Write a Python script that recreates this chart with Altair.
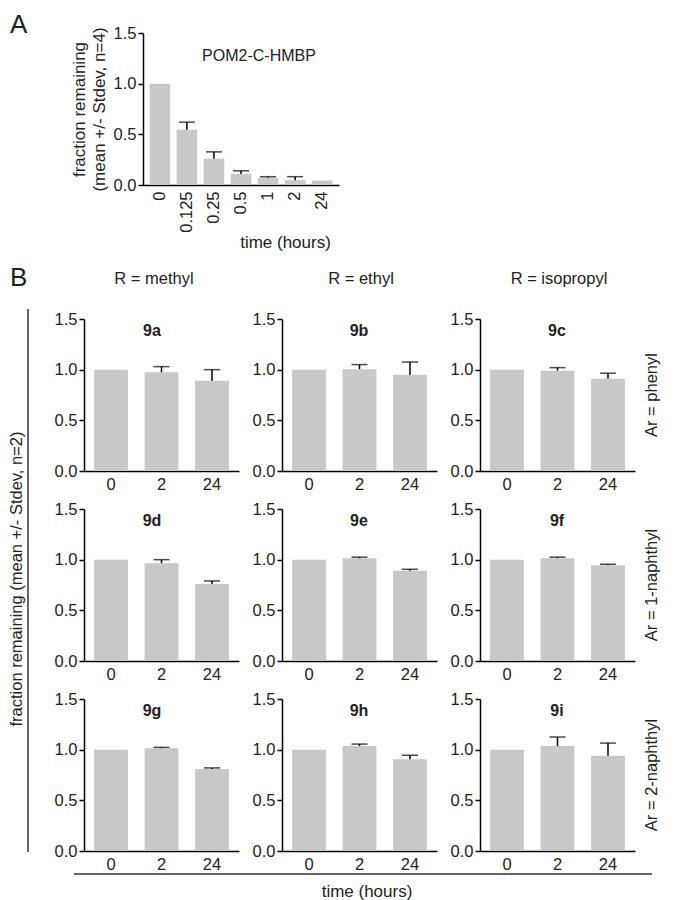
import altair as alt
import pandas as pd

FONT = "Liberation Sans"
GRAY = "#c8c8c8"
INK = "#222222"

# ---------------- Panel A data ----------------
times_a = ["0", "0.125", "0.25", "0.5", "1", "2", "24"]
mean_a = [1.0, 0.545, 0.26, 0.108, 0.072, 0.048, 0.045]
sd_a = [0.0, 0.075, 0.067, 0.032, 0.010, 0.034, 0.0]
title_a = "POM2-C-HMBP"
ytitle_a = ["fraction remaining", "(mean +/- Stdev, n=4)"]

# ---------------- Panel B data ----------------
times_b = ["0", "2", "24"]
compounds = ["9a", "9b", "9c", "9d", "9e", "9f", "9g", "9h", "9i"]
r_groups = ["R = methyl", "R = ethyl", "R = isopropyl"]
ar_groups = ["Ar = phenyl", "Ar = 1-naphthyl", "Ar = 2-naphthyl"]
mean_0h = [1.0, 1.0, 1.0, 1.0, 1.0, 1.0, 1.0, 1.0, 1.0]
sd_0h = [0.0, 0.0, 0.0, 0.0, 0.0, 0.0, 0.0, 0.0, 0.0]
mean_2h = [0.975, 1.005, 0.99, 0.965, 1.015, 1.015, 1.015, 1.035, 1.035]
sd_2h = [0.055, 0.045, 0.03, 0.035, 0.01, 0.01, 0.008, 0.02, 0.09]
mean_24h = [0.89, 0.95, 0.91, 0.76, 0.89, 0.945, 0.81, 0.905, 0.94]
sd_24h = [0.11, 0.125, 0.055, 0.03, 0.015, 0.01, 0.01, 0.04, 0.125]
ytitle_b = "fraction remaining (mean +/- Stdev, n=2)"
xtitle = "time (hours)"

y_ticks = [0.0, 0.5, 1.0, 1.5]


def one(text):
    return pd.DataFrame({"t": [text]})


def label(text, x, y, size=16.5, weight="normal", angle=0, align="center", baseline="middle"):
    return alt.Chart(one(text)).mark_text(
        fontSize=size, fontWeight=weight, angle=angle, align=align,
        baseline=baseline, color=INK, font=FONT
    ).encode(text="t:N", x=alt.value(x), y=alt.value(y))


def hline(x1, x2, y):
    return alt.Chart(one("")).mark_rule(color="#333333", strokeWidth=1.5).encode(
        x=alt.value(x1), x2=alt.value(x2), y=alt.value(y))


def vline(x, y1, y2):
    return alt.Chart(one("")).mark_rule(color="#333333", strokeWidth=1.5).encode(
        x=alt.value(x), y=alt.value(y1), y2=alt.value(y2))


def bar_panel(times, means, sds, xaxis, yaxis, xscale, cap, ytitle):
    df = pd.DataFrame({"time": times, "mean": means, "sd": sds})
    df["upper"] = df["mean"] + df["sd"]
    xenc = alt.X("time:N", sort=times, title=None, scale=xscale, axis=xaxis)
    yscale = alt.Scale(domain=[0, 1.5], nice=False)
    base = alt.Chart(df).encode(x=xenc)
    bars = base.mark_bar(color=GRAY).encode(
        y=alt.Y("mean:Q", scale=yscale, axis=yaxis, title=ytitle))
    err = base.transform_filter("datum.sd > 0").mark_rule(
        color="black", strokeWidth=1.5).encode(
        y=alt.Y("mean:Q", scale=yscale, title=ytitle), y2="upper:Q")
    caps = base.transform_filter("datum.sd > 0").mark_tick(
        color="black", thickness=1.5, size=cap).encode(
        y=alt.Y("upper:Q", scale=yscale, title=ytitle))
    return [bars, err, caps]


yaxis_common = dict(values=y_ticks, format=".1f", tickSize=5, tickWidth=1.5,
                    tickColor="black", domainColor="black", domainWidth=1.5,
                    labelFontSize=16.5, labelColor=INK, labelPadding=2, grid=False)

# ---------------- Panel A (sits in the middle grid column) ----------------
xaxis_a = alt.Axis(ticks=False, labelAngle=270, labelPadding=6, labelFontSize=16.5,
                   labelColor=INK, domainColor="black", domainWidth=1.5,
                   title=xtitle, titleFontSize=17, titleFontWeight="normal",
                   titleColor=INK, titleX=3, titleY=57, titleBaseline="middle",
                   titleAlign="center")
yaxis_a = alt.Axis(titleFontSize=17, titleFontWeight="normal", titleColor=INK,
                   titleLineHeight=20, titlePadding=5, offset=139, **yaxis_common)
xscale_a = alt.Scale(range=[-139, 57], paddingInner=0.24, paddingOuter=0.24)
layers_a = bar_panel(times_a, mean_a, sd_a, xaxis_a, yaxis_a, xscale_a, 16, ytitle_a)
chart_a = alt.layer(*layers_a, label(title_a, -23, 23, size=16)).properties(
    width=155, height=152)

# ---------------- spacers with panel letters ----------------
spacer_left = alt.layer(
    label("A", -74, -21, size=26, align="left", baseline="top"),
    label("B", -74, 232, size=26, align="left", baseline="top"),
).properties(width=16, height=248)
spacer_right = label("", 0, 0).properties(width=1, height=1)

# ---------------- Panel B ----------------
xaxis_b = alt.Axis(ticks=False, labelAngle=0, labelPadding=5, labelFontSize=16.5,
                   labelColor=INK, domainColor="black", domainWidth=1.5)
yaxis_b = alt.Axis(**yaxis_common)
xscale_b = alt.Scale(paddingInner=0.33, paddingOuter=0.2)
label_dx = [68, 77, 77]

cells = []
for i, name in enumerate(compounds):
    r, c = divmod(i, 3)
    layers = bar_panel(times_b, [mean_0h[i], mean_2h[i], mean_24h[i]],
                       [sd_0h[i], sd_2h[i], sd_24h[i]], xaxis_b, yaxis_b, xscale_b,
                       16, None)
    layers.append(label(name, label_dx[c], 12, size=16, weight="bold"))
    if r == 0:
        layers.append(label(r_groups[c], [70, 79, 79][c], -40, size=16.5))
    if c == 2:
        layers.append(label(ar_groups[r], 172, 76, size=16.5, angle=270))
    if r == 1 and c == 0:
        layers.append(vline(-56, -200, 343))
        layers.append(label(ytitle_b, -67, 70, size=16.5, angle=270))
    if r == 2 and c == 0:
        layers.append(hline(-10, 568, 175))
        layers.append(label(xtitle, 283, 193, size=17))
    cells.append(alt.layer(*layers).properties(width=155, height=152))

chart = alt.concat(
    spacer_left, chart_a, spacer_right, *cells,
    columns=3,
    spacing={"row": 38, "column": 43},
    bounds="flush",
    align={"row": "each", "column": "none"},
).properties(
    padding={"top": 4, "left": 0, "right": 0, "bottom": 0}
).configure(font=FONT, view=alt.ViewConfig(strokeWidth=0))

chart.save("out.html", embed_options={"renderer": "svg", "actions": False})
